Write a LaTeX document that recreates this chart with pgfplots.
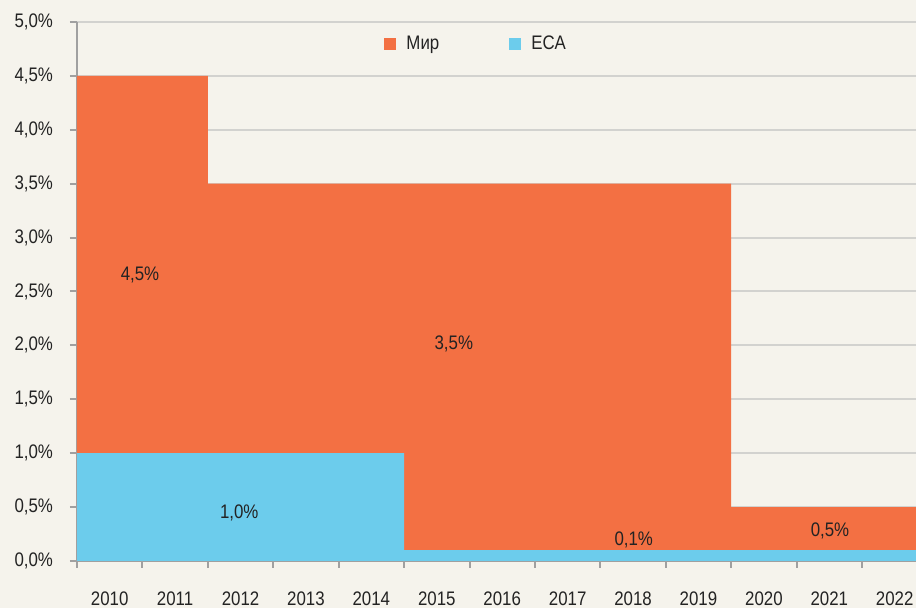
\documentclass[border=0pt]{standalone}
\usepackage{fontspec}
\setmainfont{Liberation Sans}[FakeStretch=0.86]
\usepackage{pgfplots}
\pgfplotsset{compat=1.18}
\definecolor{bgc}{RGB}{245,243,236}
\definecolor{mir}{RGB}{243,112,67}
\definecolor{eca}{RGB}{108,204,236}
\definecolor{gridc}{RGB}{210,210,207}
\definecolor{axc}{RGB}{160,160,160}
\definecolor{txt}{RGB}{35,35,35}
\newcommand{\lbl}{\fontsize{9.8}{11}\selectfont}
\begin{document}
\begin{tikzpicture}
\fill[bgc] (-38.5pt,-23.5pt) rectangle (419.5pt,280.5pt);
\begin{axis}[
  at={(0pt,0pt)}, anchor=south west,
  scale only axis, width=419.5pt, height=269.5pt,
  xmin=0, xmax=12.825, ymin=0, ymax=5,
  axis x line*=bottom, axis y line*=left,
  ytick={0,0.5,...,5}, xtick={0,...,12},
  xticklabels={2010,2011,2012,2013,2014,2015,2016,2017,2018,2019,2020,2021,2022},
  ymajorgrids, grid style={gridc, line width=1pt},
  tick align=outside, major tick length=3.5pt, tick style={axc, line width=1pt},
  axis line style={axc, line width=1pt},
  tick label style={font=\lbl, text=txt},
  yticklabel={\pgfmathprintnumber[use comma,fixed,fixed zerofill,precision=1,assume math mode=true]{\tick}\%},
  yticklabel style={xshift=-5pt},
  xticklabel style={xshift=16.35pt, yshift=-8.5pt},
  legend style={at={(0.477,0.959)}, anchor=center, draw=none, fill=none,
    legend columns=2, font=\lbl, text=txt,
    /tikz/every even column/.append style={column sep=33pt},
    /tikz/every odd column/.append style={column sep=3pt}},
  legend image code/.code={\fill[#1] (0pt,-3pt) rectangle (6pt,3pt);},
]
\addplot[const plot, fill=mir, draw=none] coordinates {(0,4.5)(2,3.5)(10,0.5)(12.825,0.5)} \closedcycle;
\addlegendentry{Мир}
\addplot[const plot, fill=eca, draw=none] coordinates {(0,1.0)(5,0.1)(12.825,0.1)} \closedcycle;
\addlegendentry{ECA}
\node[text=txt, font=\lbl] at (axis cs:0.963,2.65) {4,5\%};
\node[text=txt, font=\lbl] at (axis cs:5.76,2.01) {3,5\%};
\node[text=txt, font=\lbl] at (axis cs:2.48,0.45) {1,0\%};
\node[text=txt, font=\lbl] at (axis cs:8.51,0.20) {0,1\%};
\node[text=txt, font=\lbl] at (axis cs:11.51,0.28) {0,5\%};
\end{axis}
\pgfresetboundingbox
\useasboundingbox (-38.5pt,-23.5pt) rectangle (419.5pt,280.5pt);
\end{tikzpicture}
\end{document}
